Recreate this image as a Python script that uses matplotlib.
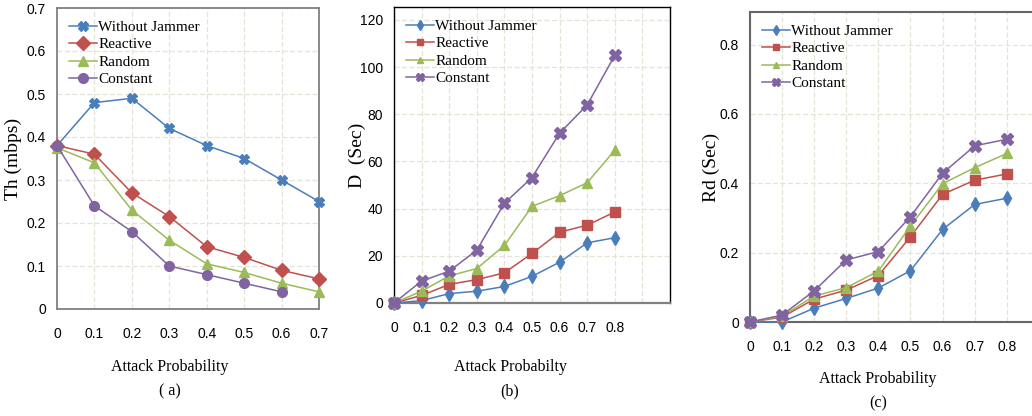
import numpy as np
import matplotlib
matplotlib.use('Agg')
import matplotlib.pyplot as plt

# ---- data ----
series = ['Without Jammer', 'Reactive', 'Random', 'Constant']
colors = ['#4a7ebb', '#c0504d', '#9bbb59', '#8064a2']

x_a = [0, 0.1, 0.2, 0.3, 0.4, 0.5, 0.6, 0.7]
th_wj = [0.38, 0.48, 0.49, 0.42, 0.38, 0.35, 0.30, 0.25]
th_reactive = [0.38, 0.36, 0.27, 0.215, 0.145, 0.12, 0.09, 0.07]
th_random = [0.375, 0.34, 0.23, 0.16, 0.105, 0.085, 0.06, 0.04]
th_constant = [0.38, 0.24, 0.18, 0.10, 0.08, 0.06, 0.04]

x_b = [0, 0.1, 0.2, 0.3, 0.4, 0.5, 0.6, 0.7, 0.8]
d_wj = [0, 1, 4, 5, 7, 11.3, 17.3, 25.5, 27.7]
d_reactive = [0, 3.2, 7.9, 9.9, 12.8, 21, 30, 33, 38.6]
d_random = [0, 5, 11.5, 14.6, 24.4, 41, 45.5, 51, 64.8]
d_constant = [0, 9.3, 13.5, 22.4, 42.3, 53.2, 72, 84, 105]

x_c = [0, 0.1, 0.2, 0.3, 0.4, 0.5, 0.6, 0.7, 0.8]
rd_wj = [0, 0, 0.040, 0.068, 0.098, 0.148, 0.267, 0.339, 0.357]
rd_reactive = [0, 0.014, 0.066, 0.092, 0.134, 0.246, 0.368, 0.409, 0.427]
rd_random = [0, 0.017, 0.075, 0.099, 0.147, 0.277, 0.399, 0.445, 0.486]
rd_constant = [0, 0.020, 0.090, 0.179, 0.203, 0.304, 0.429, 0.508, 0.527]

tick_font = ['Liberation Sans Narrow', 'Liberation Sans', 'DejaVu Sans']
text_font = ['Liberation Serif', 'DejaVu Serif']
grid_col = '#e4e4d6'

fig = plt.figure(figsize=(10.32, 4.16), dpi=100)


def style_axes(ax, xt, xt_labels, yt, yt_labels, spine_col, lw):
    ax.set_xticks(xt)
    ax.set_xticklabels(xt_labels, fontfamily=tick_font, fontsize=10)
    ax.set_yticks(yt)
    ax.set_yticklabels(yt_labels, fontfamily=tick_font, fontsize=10)
    ax.tick_params(axis='x', length=0, pad=13)
    ax.tick_params(axis='y', length=0, pad=8)
    ax.grid(True, color=grid_col, linestyle=(0, (4, 2)), linewidth=0.9)
    ax.set_axisbelow(True)
    for s in ax.spines.values():
        s.set_color(spine_col)
        s.set_linewidth(lw)


def add_legend(ax, scale, y0=1.0):
    leg = ax.legend(loc='upper left', bbox_to_anchor=(0.0, y0), frameon=False,
                    prop={'family': text_font, 'size': 11},
                    handlelength=1.8, handletextpad=0.1, labelspacing=0.25,
                    borderaxespad=0.4, markerscale=scale)
    return leg


# ---- panel (a) ----
ax1 = fig.add_axes([57 / 1032, 1 - 309 / 416, 262 / 1032, 301 / 416])
for yv, mk, c, lab in zip([th_wj, th_reactive, th_random, th_constant],
                          ['X', 'D', '^', 'o'], colors, series):
    ax1.plot(x_a[:len(yv)], yv, marker=mk, color=c, label=lab, lw=1.1,
             ms=7, clip_on=False, zorder=3)
ax1.set_xlim(0, 0.7)
ax1.set_ylim(0, 0.7)
style_axes(ax1, x_a, ['0', '0.1', '0.2', '0.3', '0.4', '0.5', '0.6', '0.7'],
           np.arange(0, 0.71, 0.1), ['0', '0.1', '0.2', '0.3', '0.4', '0.5', '0.6', '0.7'],
           '#808080', 1.3)
ax1.set_ylabel('Th (mbps)', fontfamily=text_font, fontsize=14)
ax1.yaxis.set_label_coords(-0.135, 0.5)
add_legend(ax1, 1.0)

# ---- panel (b) ----
ax2 = fig.add_axes([394 / 1032, 1 - 303 / 416, 276 / 1032, 296 / 416])
for yv, mk, c, lab in zip([d_wj, d_reactive, d_random, d_constant],
                          ['d', 's', '^', 'X'], colors, series):
    ax2.plot(x_b, yv, marker=mk, color=c, label=lab, lw=1.1,
             ms=7 if mk != 'X' else 8, clip_on=False, zorder=3)
ax2.set_xlim(0, 1.0)
ax2.set_ylim(0, 125.5)
style_axes(ax2, np.arange(0, 1.01, 0.1),
           ['0', '0.1', '0.2', '0.3', '0.4', '0.5', '0.6', '0.7', '0.8', '', ''],
           np.arange(0, 121, 20), ['0', '20', '40', '60', '80', '100', '120'],
           '#000000', 1.0)
ax2.spines['bottom'].set_color('#808080')
ax2.spines['bottom'].set_linewidth(1.6)
ax2.set_ylabel('D  (Sec)', fontfamily=text_font, fontsize=14)
ax2.yaxis.set_label_coords(-0.10, 0.5)
add_legend(ax2, 0.7)

# ---- panel (c) ----
ax3 = fig.add_axes([750 / 1032, 1 - 322 / 416, 321 / 1032, 310 / 416])
for yv, mk, c, lab in zip([rd_wj, rd_reactive, rd_random, rd_constant],
                          ['d', 's', '^', 'X'], colors, series):
    ax3.plot(x_c, yv, marker=mk, color=c, label=lab, lw=1.1,
             ms=7 if mk != 'X' else 8, clip_on=False, zorder=3)
ax3.set_xlim(0, 1.0)
ax3.set_ylim(0, 0.894)
style_axes(ax3, np.arange(0, 1.01, 0.1),
           ['0', '0.1', '0.2', '0.3', '0.4', '0.5', '0.6', '0.7', '0.8', '', ''],
           [0, 0.2, 0.4, 0.6, 0.8], ['0', '0.2', '0.4', '0.6', '0.8'],
           '#666666', 1.5)
ax3.set_ylabel('Rd (Sec)', fontfamily=text_font, fontsize=14)
ax3.yaxis.set_label_coords(-0.093, 0.5)
add_legend(ax3, 0.7)

# ---- captions under each panel ----
for cx, cy, txt in [(170, 367, 'Attack Probability'), (170, 391, '( a)'),
                    (510, 367, 'Attack Probabilty'), (510, 391, '(b)'),
                    (878, 379, 'Attack Probability'), (878, 403, '(c)')]:
    fig.text(cx / 1032, 1 - cy / 416, txt, ha='center', va='center',
             fontfamily=text_font, fontsize=11.5)

fig.savefig('out.png', dpi=100)
